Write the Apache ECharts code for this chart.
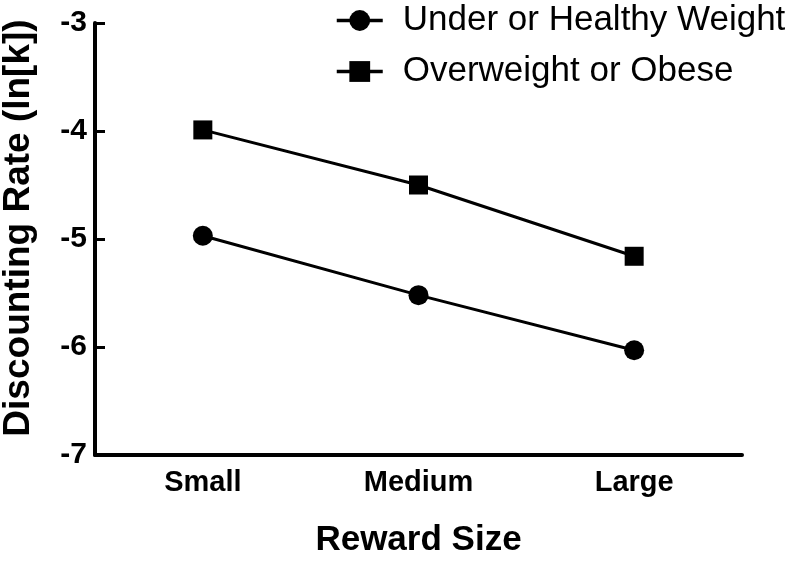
<!DOCTYPE html>
<html>
<head>
<meta charset="utf-8">
<script src="https://cdn.jsdelivr.net/npm/echarts@6/dist/echarts.min.js"></script>
<style>
html,body{margin:0;padding:0;background:#fff;}
#chart{width:800px;height:561px;}
</style>
</head>
<body>
<div id="chart"></div>
<script>
const categories = ['Small', 'Medium', 'Large'];
const healthyWeight = [-4.97, -5.52, -6.03];
const overweightObese = [-3.99, -4.50, -5.16];
const seriesNames = ['Under or Healthy Weight', 'Overweight or Obese'];
const yMin = -7, yMax = -3, yStep = 1;

const FONT = '"Liberation Sans", Arial, sans-serif';
const chart = echarts.init(document.getElementById('chart'), null, {renderer: 'canvas'});
chart.setOption({
  animation: false,
  backgroundColor: '#fff',
  grid: {left: 95, right: 58, top: 23, bottom: 106, containLabel: false, outerBoundsMode: 'none'},
  legend: {
    orient: 'vertical',
    left: 330,
    top: -2,
    itemWidth: 46,
    itemHeight: 26,
    itemGap: 16,
    data: seriesNames,
    textStyle: {fontFamily: FONT, fontSize: 35, color: '#000', padding: [0, 0, 0, 15]},
    lineStyle: {width: 3.5, color: '#000'},
    itemStyle: {color: '#000'}
  },
  xAxis: {
    type: 'category',
    data: categories,
    boundaryGap: true,
    name: 'Reward Size',
    nameLocation: 'middle',
    nameGap: 68,
    nameTextStyle: {fontFamily: FONT, fontSize: 35, fontWeight: 'bold', color: '#000'},
    axisLine: {lineStyle: {color: '#000', width: 4}},
    axisTick: {inside: true, alignWithLabel: true, length: 11, lineStyle: {color: '#000', width: 3}},
    axisLabel: {fontFamily: FONT, fontSize: 29, fontWeight: 'bold', color: '#000', margin: 13}
  },
  yAxis: {
    type: 'value',
    min: yMin,
    max: yMax,
    interval: yStep,
    name: 'Discounting Rate (ln[k])',
    nameLocation: 'middle',
    nameGap: 58,
    nameTextStyle: {fontFamily: FONT, fontSize: 37, fontWeight: 'bold', color: '#000', padding: [0, 0, 0, 22]},
    splitLine: {show: false},
    axisLine: {show: true, lineStyle: {color: '#000', width: 4}},
    axisTick: {show: true, inside: true, length: 10, lineStyle: {color: '#000', width: 3}},
    axisLabel: {fontFamily: FONT, fontSize: 30, fontWeight: 'bold', color: '#000', margin: 8}
  },
  series: [
    {
      name: seriesNames[0],
      type: 'line',
      data: healthyWeight,
      symbol: 'circle',
      symbolSize: 20,
      lineStyle: {color: '#000', width: 3},
      itemStyle: {color: '#000'}
    },
    {
      name: seriesNames[1],
      type: 'line',
      data: overweightObese,
      symbol: 'rect',
      symbolSize: 19,
      lineStyle: {color: '#000', width: 3},
      itemStyle: {color: '#000'}
    }
  ]
});
</script>
</body>
</html>
